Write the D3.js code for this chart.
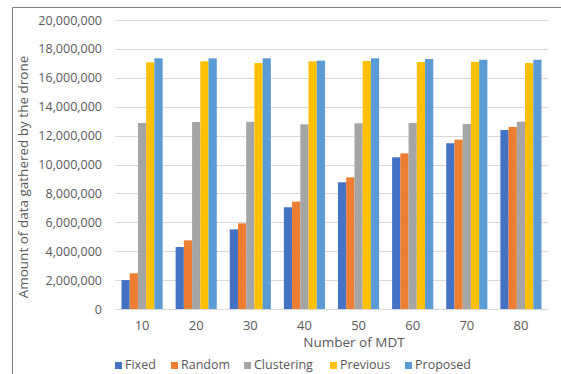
<!DOCTYPE html>
<html>
<head>
<meta charset="utf-8">
<script src="https://cdn.jsdelivr.net/npm/d3@7"></script>
<style>
  html, body { margin: 0; padding: 0; background: #fff; }
  svg { display: block; }
  text { font-family: "Open Sans", "Segoe UI", sans-serif; fill: #595959; }
</style>
</head>
<body>
<svg id="chart" width="561" height="374"></svg>
<script>
// Number of MDT on the x axis
const categories = ["10", "20", "30", "40", "50", "60", "70", "80"];
const seriesNames = ["Fixed", "Random", "Clustering", "Previous", "Proposed"];
const seriesColors = ["#4472C4", "#ED7D31", "#A5A5A5", "#FFC000", "#5B9BD5"];

// Amount of data gathered by the drone, per method
const fixed      = [2000000, 4290000, 5510000, 7040000, 8770000, 10500000, 11470000, 12390000];
const random     = [2470000, 4750000, 5930000, 7430000, 9110000, 10770000, 11720000, 12600000];
const clustering = [12870000, 12940000, 12960000, 12780000, 12850000, 12870000, 12800000, 12960000];
const previous   = [17070000, 17140000, 17020000, 17140000, 17160000, 17090000, 17110000, 17020000];
const proposed   = [17350000, 17350000, 17350000, 17190000, 17350000, 17300000, 17250000, 17250000];

const yTicks = [0, 2000000, 4000000, 6000000, 8000000, 10000000, 12000000, 14000000, 16000000, 18000000, 20000000];

const seriesValues = [fixed, random, clustering, previous, proposed];

const svg = d3.select("#chart");
const plot = { left: 115, right: 548, top: 20, bottom: 309 };

// outer frame (top and left edges)
svg.append("path")
  .attr("d", "M12.5,374 V7.5 H561")
  .attr("fill", "none")
  .attr("stroke", "#7f7f7f")
  .attr("stroke-width", 1);

const x0 = d3.scaleBand()
  .domain(categories)
  .range([plot.left, plot.right])
  .paddingInner(0.24)
  .paddingOuter(0.12);

const x1 = d3.scaleBand()
  .domain(seriesNames)
  .range([0, x0.bandwidth()]);

const y = d3.scaleLinear()
  .domain([0, 20000000])
  .range([plot.bottom, plot.top]);

// horizontal gridlines
svg.append("g")
  .selectAll("line")
  .data(yTicks.filter(d => d > 0))
  .join("line")
  .attr("x1", plot.left)
  .attr("x2", plot.right)
  .attr("y1", d => Math.round(y(d)) + 0.5)
  .attr("y2", d => Math.round(y(d)) + 0.5)
  .attr("stroke", "#d9d9d9")
  .attr("stroke-width", 1);

// y axis labels
const fmt = d3.format(",");
const yAxis = d3.axisLeft(y).tickValues(yTicks).tickFormat(d => fmt(d)).tickSize(0).tickPadding(13);
const gy = svg.append("g").attr("transform", `translate(${plot.left},0)`).call(yAxis);
gy.select(".domain").remove();
gy.selectAll("text")
  .style("font-size", "12.5px")
  .attr("fill", "#595959");

// bars
const rows = categories.map((c, i) => ({ cat: c, vals: seriesNames.map((s, k) => ({ s, k, v: seriesValues[k][i] })) }));
svg.append("g")
  .selectAll("g")
  .data(rows)
  .join("g")
  .attr("transform", d => `translate(${x0(d.cat)},0)`)
  .selectAll("rect")
  .data(d => d.vals)
  .join("rect")
  .attr("x", d => x1(d.s))
  .attr("y", d => y(d.v))
  .attr("width", x1.bandwidth())
  .attr("height", d => y(0) - y(d.v))
  .attr("fill", d => seriesColors[d.k]);

// x axis baseline and labels
const xAxis = d3.axisBottom(x0).tickSize(0).tickPadding(12);
const gx = svg.append("g").attr("transform", `translate(0,${plot.bottom})`).call(xAxis);
gx.select(".domain").attr("stroke", "#d9d9d9").attr("d", `M${plot.left},0.5H${plot.right}`);
gx.selectAll("text")
  .style("font-size", "13px")
  .attr("fill", "#595959");

// axis titles
svg.append("text")
  .attr("x", 354)
  .attr("y", 347)
  .attr("text-anchor", "middle")
  .style("font-size", "13.5px")
  .text("Number of MDT");

svg.append("text")
  .attr("transform", "translate(28,177) rotate(-90)")
  .attr("text-anchor", "middle")
  .style("font-size", "13.5px")
  .text("Amount of data gathered by the drone");

// legend
const legendX = [115, 171, 244, 330, 405];
const legend = svg.append("g")
  .selectAll("g")
  .data(seriesNames)
  .join("g")
  .attr("transform", (d, i) => `translate(${legendX[i]},365)`);
legend.append("rect")
  .attr("x", 0)
  .attr("y", -3)
  .attr("width", 7)
  .attr("height", 7)
  .attr("fill", (d, i) => seriesColors[i]);
legend.append("text")
  .attr("x", 10)
  .attr("y", 0)
  .attr("dy", "0.35em")
  .style("font-size", "12.5px")
  .text(d => d);
</script>
</body>
</html>
